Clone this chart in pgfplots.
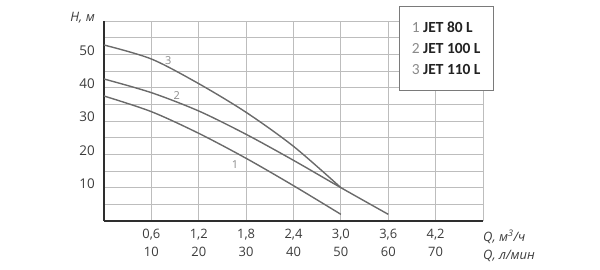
\documentclass[border=0pt]{standalone}
\usepackage{pgfplots}
\pgfplotsset{compat=1.18}
\usepackage{fontspec}
\setmainfont{Open Sans}
\newfontfamily\carlito{Carlito}
\definecolor{curvec}{HTML}{6A6A6A}
\definecolor{gridc}{HTML}{BDBDBD}
\definecolor{axc}{HTML}{2E2E2E}
\definecolor{tickc}{HTML}{3C3C3C}
\definecolor{legc}{HTML}{7A7A7A}
\definecolor{numc}{HTML}{8A8A8A}
\definecolor{legtext}{HTML}{222222}

\pgfplotstableread{
Q H
0.0 37.5
0.6 32.8
1.2 26.3
1.8 18.8
2.4 10.6
3.0 2.0
}\jeteighty
\pgfplotstableread{
Q H
0.0 42.6
0.6 38.5
1.2 33.0
1.8 26.0
2.4 18.2
3.0 10.0
3.6 2.0
}\jethundred
\pgfplotstableread{
Q H
0.0 52.8
0.6 48.6
1.2 41.2
1.8 32.6
2.4 22.4
3.0 10.0
}\jethundredten

\begin{document}
\begin{tikzpicture}
\useasboundingbox (-104bp,-49bp) rectangle (496bp,221bp);
\begin{axis}[
  at={(0,0)}, anchor=south west,
  scale only axis, width=379bp, height=200bp,
  xmin=0, xmax=4.8, ymin=0, ymax=60,
  clip=false,
  axis lines=left,
  axis line style={-, draw=axc, line width=1.8bp},
  xtick={0,0.6,1.2,1.8,2.4,3.0,3.6,4.2,4.8},
  xticklabels={{},{0,6\\10},{1,2\\20},{1,8\\30},{2,4\\40},{3,0\\50},{3,6\\60},{4,2\\70},{}},
  ytick={0,5,10,15,20,25,30,35,40,45,50,55,60},
  yticklabels={{},{},10,{},20,{},30,{},40,{},50,{},{}},
  grid=major,
  major grid style={draw=gridc, line width=0.8bp},
  major tick length=0pt,
  /pgf/number format/assume math mode=true,
  xticklabel style={align=center, font=\fontsize{13}{18}\selectfont, text=tickc, anchor=north, yshift=-4.7bp},
  yticklabel style={font=\fontsize{13.5}{16}\selectfont, text=tickc, anchor=east, xshift=-5.7bp, yshift=4bp},
  legend image code/.code={},
  legend cell align=left,
  legend style={at={(0.7784,1.075)}, anchor=north west,
    draw=legc, line width=0.8bp, fill=white,
    inner xsep=12.5bp, inner ysep=16bp, row sep=11.5bp,
    font=\carlito\fontsize{15.5}{17}\selectfont,
    nodes={inner sep=0pt, text height=9.8bp, text depth=0pt},
    /tikz/every odd column/.append style={column sep=0pt}},
]
\addplot[curvec, line width=1.4bp, smooth] table[x=Q, y=H] {\jeteighty};
\addlegendentry{\textcolor{numc}{1} \textcolor{legtext}{\bfseries JET 80 L}}
\addplot[curvec, line width=1.4bp, smooth] table[x=Q, y=H] {\jethundred};
\addlegendentry{\textcolor{numc}{2} \textcolor{legtext}{\bfseries JET 100 L}}
\addplot[curvec, line width=1.4bp, smooth] table[x=Q, y=H] {\jethundredten};
\addlegendentry{\textcolor{numc}{3} \textcolor{legtext}{\bfseries JET 110 L}}

\node[text=numc, font=\fontsize{11}{13}\selectfont] at (axis cs:1.658,17.0) {1};
\node[text=numc, font=\fontsize{11}{13}\selectfont] at (axis cs:0.92,37.6) {2};
\node[text=numc, font=\fontsize{11}{13}\selectfont] at (axis cs:0.814,48.0) {3};

\node[anchor=base east, inner sep=0pt, xshift=-9bp, text=tickc, font=\itshape\fontsize{13}{16}\selectfont] at (rel axis cs:0,1) {H, м};
\node[anchor=base west, inner sep=0pt, yshift=-20bp, text=tickc, font=\itshape\fontsize{13}{16}\selectfont] at (rel axis cs:1,0) {Q, м\textsuperscript{3}/ч};
\node[anchor=base west, inner sep=0pt, yshift=-38bp, text=tickc, font=\itshape\fontsize{13}{16}\selectfont] at (rel axis cs:1,0) {Q, л/мин};
\end{axis}
\end{tikzpicture}
\end{document}
